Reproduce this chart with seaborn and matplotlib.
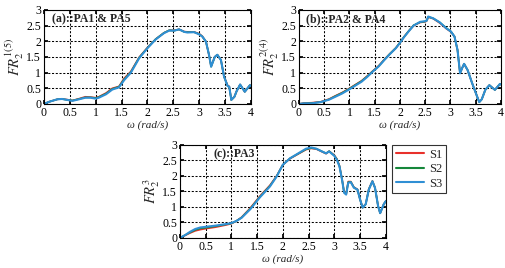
import pandas as pd
import seaborn as sns
import matplotlib
matplotlib.use("Agg")
import matplotlib.pyplot as plt
from matplotlib.ticker import FuncFormatter

# panel (a): PA1 & PA5
omega_a = [0, 0.1, 0.26, 0.35, 0.45, 0.55, 0.68, 0.8, 0.9, 1.0, 1.06, 1.2, 1.32, 1.45, 1.55, 1.68, 1.84, 2.0, 2.16, 2.32,
           2.42, 2.52, 2.61, 2.71, 2.77, 2.9, 3.0, 3.06, 3.13, 3.19, 3.23, 3.3, 3.35, 3.42, 3.48, 3.55, 3.58, 3.62, 3.68, 3.72,
           3.79, 3.88, 3.98, 4.0]
a_s1 = [0, 0.07, 0.15, 0.16, 0.14, 0.11, 0.17, 0.23, 0.22, 0.2, 0.23, 0.35, 0.5, 0.56, 0.82, 1.04, 1.49, 1.8, 2.07, 2.27,
        2.35, 2.35, 2.38, 2.31, 2.3, 2.3, 2.24, 2.16, 1.99, 1.56, 1.2, 1.5, 1.57, 1.4, 0.88, 0.58, 0.56, 0.13, 0.23, 0.4,
        0.62, 0.39, 0.6, 0.58]
a_s2 = [0, 0.07, 0.15, 0.16, 0.13, 0.11, 0.16, 0.21, 0.21, 0.19, 0.22, 0.33, 0.48, 0.55, 0.79, 1.02, 1.48, 1.79, 2.07, 2.27,
        2.35, 2.34, 2.38, 2.3, 2.29, 2.29, 2.23, 2.15, 1.99, 1.56, 1.19, 1.5, 1.57, 1.4, 0.87, 0.57, 0.55, 0.13, 0.23, 0.4,
        0.62, 0.39, 0.6, 0.58]
a_s3 = [0, 0.07, 0.15, 0.16, 0.13, 0.1, 0.15, 0.2, 0.2, 0.17, 0.2, 0.31, 0.46, 0.53, 0.76, 1.0, 1.46, 1.78, 2.06, 2.26,
        2.34, 2.34, 2.38, 2.3, 2.28, 2.29, 2.22, 2.15, 1.99, 1.56, 1.19, 1.5, 1.57, 1.4, 0.87, 0.57, 0.55, 0.13, 0.23, 0.4,
        0.62, 0.39, 0.6, 0.58]

# panel (b): PA2 & PA4
omega_b = [0, 0.1, 0.25, 0.43, 0.6, 0.72, 0.85, 0.98, 1.1, 1.24, 1.35, 1.46, 1.58, 1.69, 1.8, 1.92, 2.0, 2.08, 2.18, 2.27,
           2.4, 2.5, 2.53, 2.56, 2.66, 2.79, 2.92, 3.01, 3.08, 3.14, 3.19, 3.23, 3.27, 3.34, 3.43, 3.53, 3.57, 3.62, 3.69,
           3.77, 3.88, 3.98, 4.0]
b_s1 = [0, 0.03, 0.04, 0.07, 0.16, 0.26, 0.36, 0.48, 0.6, 0.74, 0.89, 1.05, 1.22, 1.42, 1.6, 1.79, 1.96, 2.14, 2.34, 2.5,
        2.6, 2.62, 2.65, 2.77, 2.72, 2.58, 2.4, 2.3, 2.15, 1.72, 0.98, 1.14, 1.28, 1.08, 0.66, 0.23, 0.06, 0.15, 0.45,
        0.6, 0.45, 0.64, 0.62]
b_s2 = [0, 0.02, 0.03, 0.06, 0.15, 0.25, 0.35, 0.47, 0.59, 0.73, 0.88, 1.04, 1.21, 1.41, 1.6, 1.79, 1.96, 2.14, 2.34, 2.51,
        2.61, 2.63, 2.66, 2.78, 2.73, 2.6, 2.42, 2.31, 2.15, 1.72, 0.98, 1.14, 1.28, 1.08, 0.66, 0.23, 0.06, 0.15, 0.45,
        0.6, 0.45, 0.64, 0.62]
b_s3 = [0, 0.02, 0.02, 0.06, 0.14, 0.23, 0.33, 0.45, 0.57, 0.71, 0.86, 1.03, 1.2, 1.4, 1.59, 1.78, 1.95, 2.13, 2.33, 2.5,
        2.62, 2.64, 2.66, 2.79, 2.73, 2.6, 2.41, 2.31, 2.15, 1.72, 0.98, 1.14, 1.28, 1.08, 0.66, 0.23, 0.06, 0.15, 0.45,
        0.6, 0.45, 0.64, 0.62]

# panel (c): PA3
omega_c = [0, 0.1, 0.2, 0.3, 0.4, 0.5, 0.7, 0.9, 1.0, 1.1, 1.2, 1.37, 1.56, 1.75, 1.88, 2.0, 2.14, 2.3, 2.45, 2.55,
           2.65, 2.75, 2.84, 2.9, 3.0, 3.05, 3.1, 3.15, 3.19, 3.23, 3.27, 3.32, 3.38, 3.45, 3.5, 3.55, 3.61, 3.67, 3.74,
           3.79, 3.85, 3.89, 3.96, 4.0]
c_s1 = [0, 0.08, 0.16, 0.23, 0.27, 0.3, 0.35, 0.42, 0.46, 0.55, 0.67, 0.97, 1.36, 1.7, 2.0, 2.36, 2.56, 2.71, 2.85, 2.89,
        2.87, 2.79, 2.72, 2.8, 2.67, 2.55, 2.33, 1.9, 1.48, 1.42, 1.82, 1.82, 1.64, 1.57, 1.25, 0.98, 1.1, 1.58, 1.84,
        1.62, 1.03, 0.8, 1.09, 1.19]
c_s2 = [0, 0.09, 0.18, 0.26, 0.31, 0.33, 0.38, 0.44, 0.47, 0.55, 0.66, 0.95, 1.34, 1.68, 1.99, 2.36, 2.57, 2.72, 2.86, 2.9,
        2.88, 2.8, 2.73, 2.8, 2.66, 2.54, 2.32, 1.89, 1.47, 1.41, 1.8, 1.81, 1.63, 1.56, 1.24, 0.98, 1.09, 1.57, 1.83,
        1.62, 1.03, 0.8, 1.09, 1.19]
c_s3 = [0, 0.09, 0.2, 0.29, 0.34, 0.36, 0.4, 0.45, 0.48, 0.55, 0.65, 0.93, 1.32, 1.66, 1.98, 2.36, 2.57, 2.73, 2.88, 2.92,
        2.88, 2.8, 2.73, 2.79, 2.65, 2.52, 2.31, 1.88, 1.46, 1.4, 1.78, 1.8, 1.62, 1.56, 1.24, 0.98, 1.09, 1.56, 1.83,
        1.62, 1.03, 0.8, 1.09, 1.19]

series = ['S1', 'S2', 'S3']
colors = {'S1': '#e8312b', 'S2': '#15873a', 'S3': '#2f8fd4'}

sns.set_theme(style='white')
plt.rcParams['font.family'] = ['Liberation Serif', 'DejaVu Serif']
plt.rcParams['mathtext.fontset'] = 'stix'


def long_frame(x, s1, s2, s3):
    rows = []
    for name, ys in zip(series, [s1, s2, s3]):
        for xi, yi in zip(x, ys):
            rows.append({'omega': xi, 'FR': yi, 'series': name})
    return pd.DataFrame(rows)


def draw_panel(ax, df, ylabel, title, tx):
    sns.lineplot(data=df, x='omega', y='FR', hue='series', hue_order=series, palette=colors,
                 estimator=None, sort=False, ax=ax, legend=True)
    for line, name in zip(ax.get_lines(), series):
        line.set_linewidth(1.5 if name == 'S3' else 1.2)
    ax.set_xlim(0, 4)
    ax.set_ylim(0, 3)
    ax.set_xticks([0, 0.5, 1, 1.5, 2, 2.5, 3, 3.5, 4])
    ax.set_yticks([0, 0.5, 1, 1.5, 2, 2.5, 3])
    fmt = FuncFormatter(lambda v, p: '%g' % v)
    ax.xaxis.set_major_formatter(fmt)
    ax.yaxis.set_major_formatter(fmt)
    ax.grid(True, color='black', linestyle=(0, (2, 1.6)), linewidth=0.75)
    ax.tick_params(direction='in', length=3, labelsize=8.5, pad=2, top=True, right=True,
                   bottom=True, left=True, colors='black')
    for sp in ax.spines.values():
        sp.set_color('black')
        sp.set_linewidth(0.8)
    ax.set_xlabel('ω (rad/s)', fontsize=8, fontstyle='italic', labelpad=1)
    ax.set_ylabel(ylabel, fontsize=10.5, labelpad=0)
    ax.text(tx, 0.9, title, transform=ax.transAxes, fontsize=8.5, fontweight='bold',
            va='center', ha='left')


fig = plt.figure(figsize=(5.05, 2.68), dpi=100)
ax_a = fig.add_axes([0.087, 0.612, 0.41, 0.351])
ax_b = fig.add_axes([0.592, 0.612, 0.400, 0.351])
ax_c = fig.add_axes([0.356, 0.112, 0.408, 0.347])

draw_panel(ax_a, long_frame(omega_a, a_s1, a_s2, a_s3), r'$FR_2^{1(5)}$', '(a)::PA1 & PA5', 0.04)
draw_panel(ax_b, long_frame(omega_b, b_s1, b_s2, b_s3), r'$FR_2^{2(4)}$', '(b)::PA2 & PA4', 0.035)
draw_panel(ax_c, long_frame(omega_c, c_s1, c_s2, c_s3), r'$FR_2^{3}$', '(c)::PA3', 0.165)

handles, labels = ax_c.get_legend_handles_labels()
for ax in (ax_a, ax_b, ax_c):
    if ax.get_legend() is not None:
        ax.get_legend().remove()
leg = fig.legend(handles, labels, loc='upper left', bbox_to_anchor=(0.776, 0.459),
                 fontsize=9, frameon=True, fancybox=False, handlelength=2.3,
                 borderpad=0.3, labelspacing=0.2, handletextpad=0.4, borderaxespad=0)
leg.get_frame().set_edgecolor('black')
leg.get_frame().set_linewidth(0.8)
for h in leg.legend_handles:
    h.set_linewidth(1.5)

fig.savefig('out.png', dpi=100)
plt.close()
